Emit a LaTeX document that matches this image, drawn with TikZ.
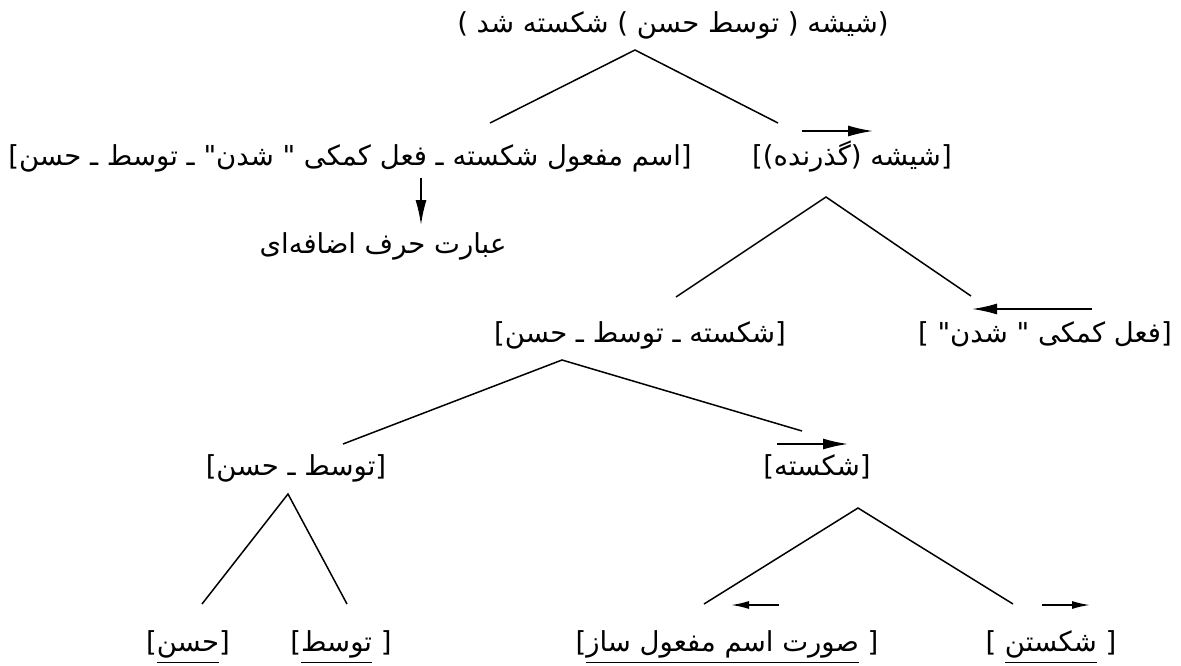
\documentclass[tikz,border=0pt]{standalone}
\usepackage{fontspec}
\usetikzlibrary{arrows.meta}
\TeXXeTstate=1
\newfontfamily\fa[Script=Arabic]{DejaVu Sans}
\newcommand\ulfa[1]{\setbox0\hbox{\beginR#1\endR}\dp0=0pt\vtop{\copy0\kern 10.5pt\hrule height 1.8pt}}
\tikzset{
  lbl/.style={inner sep=0pt, anchor=base, font=\fa\fontsize{27.5}{32}\selectfont},
  edge/.style={line width=1.5pt},
  bigarr/.style={line width=1.7pt, -{Latex[length=25pt,width=11pt]}},
  smallarr/.style={line width=1.7pt, -{Latex[length=18pt,width=8pt]}}
}
\begin{document}
\begin{tikzpicture}[x=1pt,y=-1pt]
\useasboundingbox (0,0) rectangle (1181,666);
% nodes
\node[lbl] (top) at (673,33) {\beginR(شیشه ( توسط حسن ) شکسته شد )\endR};
\node[lbl] (l1a) at (350,165) {\beginR[اسم مفعول شکسته ـ فعل کمکی " شدن" ـ توسط ـ حسن]\endR};
\node[lbl] (l1b) at (852,165) {\beginR[شیشه (گذرنده)]\endR};
\node[lbl] (pp) at (383,253) {\beginR عبارت حرف اضافه‌ای\endR};
\node[lbl] (l2a) at (640,342) {\beginR[شکسته ـ توسط ـ حسن]\endR};
\node[lbl] (l2b) at (1045,342) {\beginR[فعل کمکی " شدن" ]\endR};
\node[lbl] (l3a) at (296,475) {\beginR[توسط ـ حسن]\endR};
\node[lbl] (l3b) at (817,475) {\beginR[شکسته]\endR};
\node[lbl] (l4a) at (188,651) {\beginR[\ulfa{حسن}]\endR};
\node[lbl] (l4b) at (341,651) {\beginR[ \ulfa{توسط}]\endR};
\node[lbl] (l4c) at (727,651) {\beginR[ \ulfa{صورت اسم مفعول ساز}]\endR};
\node[lbl] (l4d) at (1051,651) {\beginR[ \ulfa{شکستن} ]\endR};
% tree coordinates
\coordinate (a1) at (635,50);
\coordinate (a1l) at (490,123);
\coordinate (a1r) at (778,123);
\coordinate (a2) at (826,197);
\coordinate (a2l) at (676,297);
\coordinate (a2r) at (971,296);
\coordinate (a3) at (562,360);
\coordinate (a3l) at (343,444);
\coordinate (a3r) at (802,431);
\coordinate (a4) at (288,494);
\coordinate (a4l) at (202,604);
\coordinate (a4r) at (347,604);
\coordinate (a5) at (858,508);
\coordinate (a5l) at (704,604);
\coordinate (a5r) at (1013,604);
\draw[edge] (a1l) -- (a1) -- (a1r);
\draw[edge] (a2l) -- (a2) -- (a2r);
\draw[edge] (a3l) -- (a3) -- (a3r);
\draw[edge] (a4l) -- (a4) -- (a4r);
\draw[edge] (a5l) -- (a5) -- (a5r);
% arrows
\coordinate (r1s) at (802,131); \coordinate (r1e) at (873,131);
\draw[bigarr] (r1s) -- (r1e);
\coordinate (r2s) at (1092,309); \coordinate (r2e) at (972,309);
\draw[bigarr] (r2s) -- (r2e);
\coordinate (d1) at (421,178); \coordinate (d2) at (421,225);
\draw[bigarr] (d1) -- (d2);
\coordinate (r3s) at (777,444); \coordinate (r3e) at (848,444);
\draw[bigarr] (r3s) -- (r3e);
\coordinate (r4s) at (779,605); \coordinate (r4e) at (731,605);
\draw[smallarr] (r4s) -- (r4e);
\coordinate (r5s) at (1042,605); \coordinate (r5e) at (1090,605);
\draw[smallarr] (r5s) -- (r5e);
\end{tikzpicture}
\end{document}
